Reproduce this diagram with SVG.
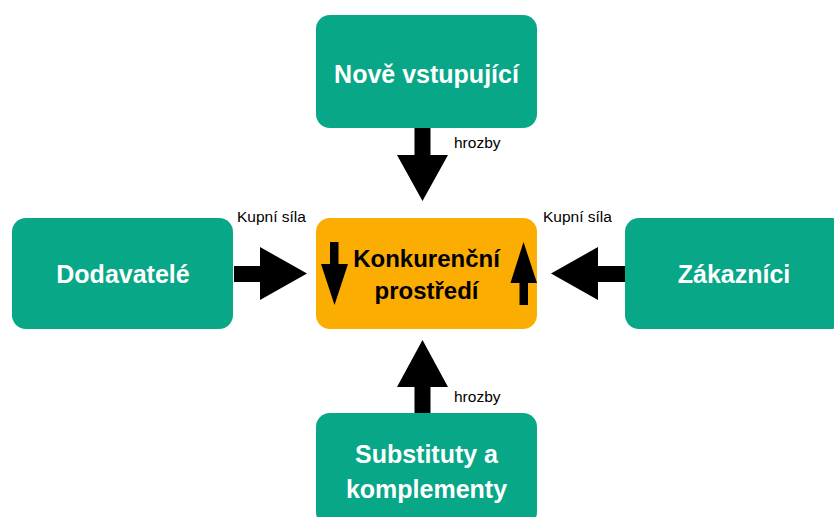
<svg xmlns="http://www.w3.org/2000/svg" width="834" height="517" viewBox="0 0 834 517">
<style>
.g{fill:#07A787;}
.o{fill:#FCAD02;}
.lbl{font-family:"Liberation Sans",Arial,Helvetica,sans-serif;font-weight:bold;font-size:25px;fill:#ffffff;text-anchor:middle;}
.ctr{font-family:"Liberation Sans",Arial,Helvetica,sans-serif;font-weight:bold;font-size:24px;fill:#000000;text-anchor:middle;}
.sm{font-family:"Liberation Sans",Arial,Helvetica,sans-serif;font-size:15.5px;fill:#000000;}
.a{fill:#000000;}
</style>
<rect width="834" height="517" fill="#ffffff"/>
<g id="connectors">
<polygon class="a" points="414.5,128 430.5,128 430.5,155 448,155 422.5,201 397,155 414.5,155"/>
<polygon class="a" points="414.5,413 430.5,413 430.5,387 448,387 422.5,340 397,387 414.5,387"/>
<polygon class="a" points="234,266 260,266 260,247 307,273.5 260,300 260,282 234,282"/>
<polygon class="a" points="625,266 598,266 598,247 551,273.5 598,300 598,282 625,282"/>
<text class="sm" x="454" y="148">hrozby</text>
<text class="sm" x="454" y="402">hrozby</text>
<text class="sm" x="237" y="222">Kupní síla</text>
<text class="sm" x="543" y="222">Kupní síla</text>
</g>
<g id="node-center">
<rect class="o" x="316" y="218" width="221" height="111" rx="14" ry="14"/>
<polygon class="a" points="330,242 338.5,242 338.5,264 348,264 334.5,305 321,264 330,264"/>
<polygon class="a" points="519.5,305 528,305 528,283 537,283 523.5,242 510.5,283 519.5,283"/>
<text class="ctr" x="426.5" y="267">Konkurenční</text>
<text class="ctr" x="426.5" y="299">prostředí</text>
</g>
<g id="node-top">
<rect class="g" x="316" y="15" width="221" height="113" rx="14" ry="14"/>
<text class="lbl" x="426.5" y="83">Nově vstupující</text>
</g>
<g id="node-left">
<rect class="g" x="12" y="218" width="221" height="111" rx="14" ry="14"/>
<text class="lbl" x="123" y="283">Dodavatelé</text>
</g>
<g id="node-right">
<rect class="g" x="625" y="218" width="221" height="111" rx="14" ry="14"/>
<text class="lbl" x="734" y="283">Zákazníci</text>
</g>
<g id="node-bottom">
<rect class="g" x="316" y="413" width="221" height="113" rx="14" ry="14"/>
<text class="lbl" x="426.5" y="463">Substituty a</text>
<text class="lbl" x="426.5" y="498">komplementy</text>
</g>
</svg>
